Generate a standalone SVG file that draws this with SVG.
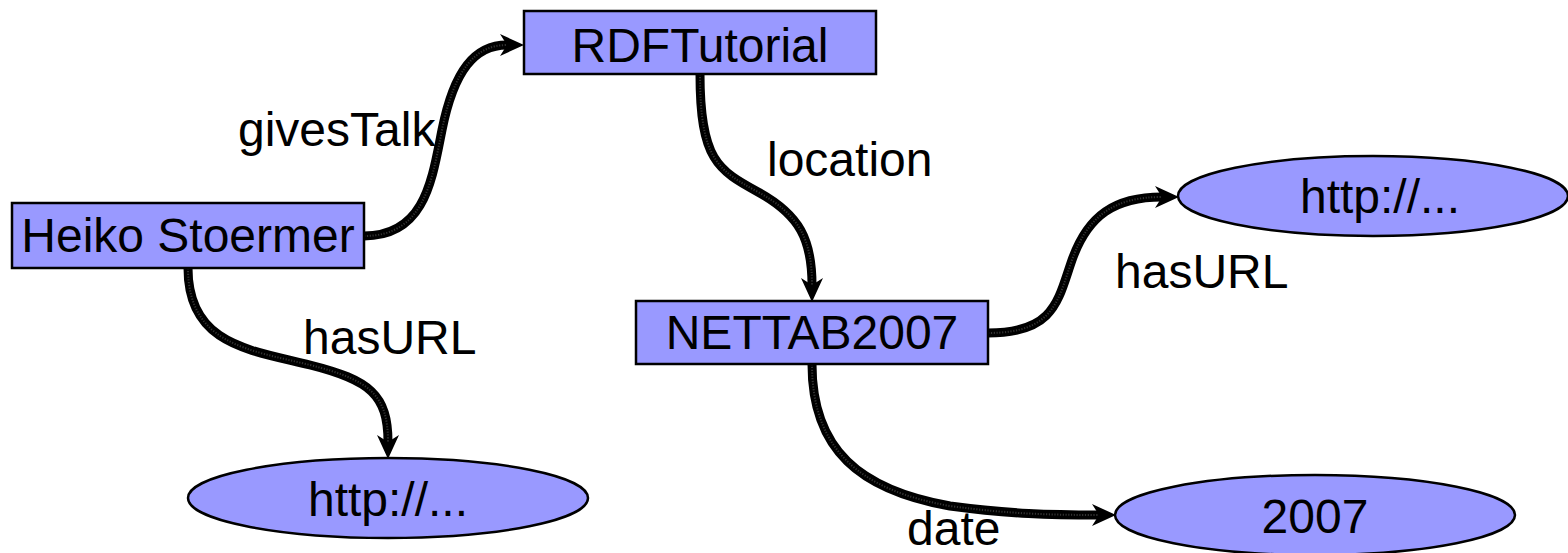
<svg xmlns="http://www.w3.org/2000/svg" xmlns:xlink="http://www.w3.org/1999/xlink" width="1568" height="553" viewBox="0 0 1568 553">
<style>
.node{fill:#9999ff;stroke:#000;stroke-width:2.5}
.lbl{font-family:"Liberation Sans",Arial,sans-serif;font-size:48px;fill:#000}
.c{text-anchor:middle}
.base{fill:none;stroke:#000;stroke-width:9;marker-end:url(#arr)}
.dash{fill:none;stroke:#333;stroke-width:2;stroke-dasharray:1.2 1.6}
</style>
<defs>
<marker id="arr" markerUnits="userSpaceOnUse" markerWidth="26" markerHeight="24" viewBox="0 0 24 24" refX="7" refY="12" orient="auto">
<path d="M0,1 L24,12 L0,23 L7,12 z" fill="#000"/>
</marker>
<path id="p1" d="M364 236 C 425 236, 432 180, 442 130 C 454 70, 475 45, 507 45"/>
<path id="p2" d="M188 268 C 188 345, 250 350, 310 365 C 370 380, 388 395, 388 442"/>
<path id="p3" d="M700 74 C 700 160, 718 170, 758 192 C 800 215, 812 240, 812 285"/>
<path id="p4" d="M988 333 C 1055 333, 1058 300, 1072 260 C 1088 215, 1115 197, 1162 197"/>
<path id="p5" d="M812 364 C 812 450, 860 490, 950 506 C 1010 514, 1050 515, 1099 515"/>
</defs>
<g id="connectors">
<use xlink:href="#p1" class="base"/><use xlink:href="#p1" class="dash"/>
<use xlink:href="#p2" class="base"/><use xlink:href="#p2" class="dash"/>
<use xlink:href="#p3" class="base"/><use xlink:href="#p3" class="dash"/>
<use xlink:href="#p4" class="base"/><use xlink:href="#p4" class="dash"/>
<use xlink:href="#p5" class="base"/><use xlink:href="#p5" class="dash"/>
</g>
<g id="labels">
<text class="lbl" x="238" y="146">givesTalk</text>
<text class="lbl" x="767" y="176">location</text>
<text class="lbl" x="303" y="354">hasURL</text>
<text class="lbl" x="1115" y="288">hasURL</text>
<text class="lbl" x="907" y="545">date</text>
</g>
<g id="rdftutorial"><rect class="node" x="524" y="11" width="352" height="63"/><text class="lbl c" x="700" y="62">RDFTutorial</text></g>
<g id="heiko"><rect class="node" x="12" y="203" width="352" height="65"/><text class="lbl c" x="188" y="252">Heiko Stoermer</text></g>
<g id="nettab"><rect class="node" x="636" y="301" width="352" height="63"/><text class="lbl c" x="812" y="349">NETTAB2007</text></g>
<g id="url-right"><ellipse class="node" cx="1373" cy="196" rx="195" ry="40"/><text class="lbl c" x="1380" y="213">http://...</text></g>
<g id="url-left"><ellipse class="node" cx="388" cy="498" rx="200" ry="40"/><text class="lbl c" x="388" y="516">http://...</text></g>
<g id="year"><ellipse class="node" cx="1315" cy="515" rx="200" ry="40"/><text class="lbl c" x="1315" y="533">2007</text></g>
</svg>
